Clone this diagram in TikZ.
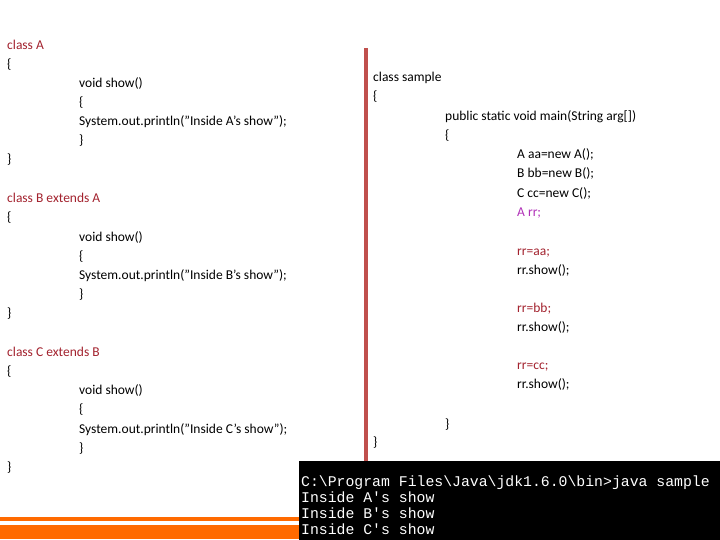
\documentclass[tikz,border=0pt]{standalone}
\usepackage{fontspec}
\setmainfont{Carlito}
\newfontfamily\termfont{Liberation Mono}
\definecolor{kw}{HTML}{A3222E}
\definecolor{mg}{HTML}{B030B8}
\definecolor{bar}{HTML}{C0504D}
\definecolor{orng}{HTML}{FF6A00}
\tikzset{t/.style={anchor=base west,inner sep=0pt,font=\fontsize{13.5}{15}\selectfont},
term/.style={anchor=base west,inner sep=0pt,text=white,font=\termfont\fontsize{14.8}{16}\selectfont}}
\begin{document}
\begin{tikzpicture}[x=1pt,y=-1pt]
\useasboundingbox (0,0) rectangle (720,540);
\fill[white] (0,0) rectangle (720,540);
\fill[bar] (364,48) rectangle (368,540);
\fill[orng] (0,517) rectangle (299,521);
\fill[orng] (0,525) rectangle (299,539);
\fill[black] (299,461) rectangle (720,540);
\def\L#1#2#3#4{\node[t,#4] (n#1) at (#2,#3+5) {\strut};}
% left
\node[t,text=kw] (a1) at (7,50) {class A};
\node[t] (a2) at (7,69) {\{};
\node[t] (a3) at (79,88) {void show()};
\node[t] (a4) at (79,107) {\{};
\node[t] (a5) at (79,126) {System.out.println("Inside A's show");};
\node[t] (a6) at (79,145) {\}};
\node[t] (a7) at (7,164) {\}};
\node[t,text=kw] (b1) at (7,203) {class B extends A};
\node[t] (b2) at (7,222) {\{};
\node[t] (b3) at (79,241) {void show()};
\node[t] (b4) at (79,260) {\{};
\node[t] (b5) at (79,279) {System.out.println("Inside B's show");};
\node[t] (b6) at (79,298) {\}};
\node[t] (b7) at (7,317) {\}};
\node[t,text=kw] (c1) at (7,356) {class C extends B};
\node[t] (c2) at (7,375) {\{};
\node[t] (c3) at (79,394) {void show()};
\node[t] (c4) at (79,413) {\{};
\node[t] (c5) at (79,433) {System.out.println("Inside C's show");};
\node[t] (c6) at (79,452) {\}};
\node[t] (c7) at (7,471) {\}};
% right
\node[t] (s1) at (373,82) {class sample};
\node[t] (s2) at (373,101) {\{};
\node[t] (s3) at (445,121) {public static void main(String arg[])};
\node[t] (s4) at (445,140) {\{};
\node[t] (s5) at (517,159) {A aa=new A();};
\node[t] (s6) at (517,178) {B bb=new B();};
\node[t] (s7) at (517,197) {C cc=new C();};
\node[t,text=mg] (s8) at (517,216) {A rr;};
\node[t,text=kw] (s9) at (517,255) {rr=aa;};
\node[t] (s10) at (517,274) {rr.show();};
\node[t,text=kw] (s11) at (517,312) {rr=bb;};
\node[t] (s12) at (517,331) {rr.show();};
\node[t,text=kw] (s13) at (517,369) {rr=cc;};
\node[t] (s14) at (517,388) {rr.show();};
\node[t] (s15) at (445,428) {\}};
\node[t] (s16) at (373,446) {\}};
% terminal
\node[term] (o1) at (301,486) {C:\textbackslash Program Files\textbackslash Java\textbackslash jdk1.6.0\textbackslash bin>java sample};
\node[term] (o2) at (301,502) {Inside A's show};
\node[term] (o3) at (301,518) {Inside B's show};
\node[term] (o4) at (301,534) {Inside C's show};
\end{tikzpicture}
\end{document}
